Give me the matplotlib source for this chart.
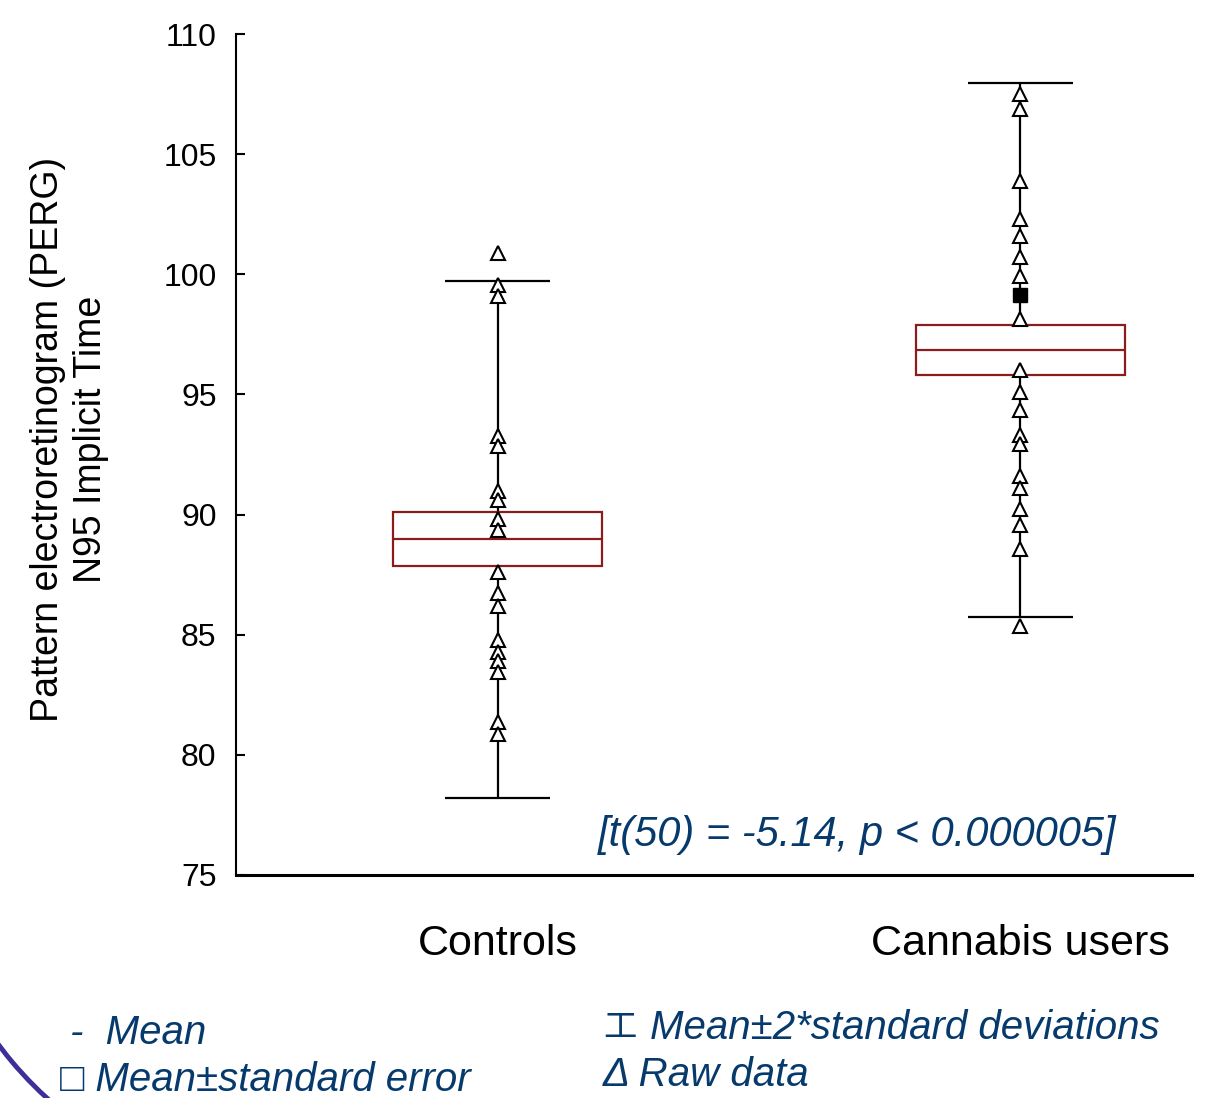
import matplotlib
matplotlib.use("Agg")
import matplotlib.pyplot as plt
from matplotlib.patches import Rectangle, Arc

# Data ###############################################################
groups = ["Controls", "Cannabis users"]
means = [88.97, 96.85]
sem = [1.12, 1.06]          # box = mean +/- standard error
two_sd = [10.77, 11.11]     # whiskers = mean +/- 2*SD

controls_raw = [100.9, 99.55, 99.1, 93.25, 92.85, 91.0, 90.6, 89.8, 89.35,
                87.6, 86.75, 86.2, 84.8, 84.3, 83.9, 83.45, 81.35, 80.85]
cannabis_raw = [107.5, 106.9, 103.9, 102.3, 101.6, 100.7, 99.95, 98.15,
                96.0, 95.1, 94.35, 93.3, 92.95, 91.6, 91.1, 90.25, 89.55,
                88.55, 85.35]
cannabis_filled = [99.15]

y_ticks = [75, 80, 85, 90, 95, 100, 105, 110]
stat_text = "[t(50) = -5.14, p < 0.000005]"

# Styles ###############################################################
box_col = "#8c1c1c"
navy = "#073a6c"
plt.rcParams["font.family"] = ["Liberation Sans", "DejaVu Sans"]

fig = plt.figure(figsize=(12.06, 10.98), dpi=100)
ax = fig.add_axes([0.1957, 0.2031, 0.7927, 0.7659])

box_half = 0.2
cap_half = 0.1
raw = [controls_raw, cannabis_raw]

for i in range(len(groups)):
    m, s, d = means[i], sem[i], two_sd[i]
    # whiskers (outside the box)
    ax.vlines(i, m + s, m + d, color="black", lw=1.6, zorder=2)
    ax.vlines(i, m - d, m - s, color="black", lw=1.6, zorder=2)
    ax.hlines([m + d, m - d], i - cap_half, i + cap_half, color="black", lw=1.6, zorder=2)
    # mean +/- SE box and mean line
    ax.add_patch(Rectangle((i - box_half, m - s), 2 * box_half, 2 * s,
                           fill=False, edgecolor=box_col, lw=1.6, zorder=3))
    ax.hlines(m, i - box_half, i + box_half, color=box_col, lw=1.6, zorder=3)
    # raw data
    ax.plot([i] * len(raw[i]), raw[i], linestyle="none", marker="^", ms=10,
            mfc="white", mec="black", mew=1.5, zorder=4)

ax.plot([1] * len(cannabis_filled), cannabis_filled, linestyle="none", marker="s",
        ms=10, mfc="black", mec="black", zorder=5)

ax.set_xlim(-0.5, 1.328)
ax.set_ylim(75, 110)
ax.set_yticks(y_ticks)
ax.set_xticks(range(len(groups)))
ax.set_xticklabels(groups, fontsize=31)
ax.tick_params(axis="x", length=0, pad=35)
ax.tick_params(axis="y", direction="in", length=6.5, width=1.5, labelsize=23, pad=14)
for side in ["top", "right"]:
    ax.spines[side].set_visible(False)
ax.spines["left"].set_linewidth(1.5)
ax.spines["bottom"].set_linewidth(2.2)

# axis label, stats and legend text
fig.text(0.058, 0.60, "Pattern electroretinogram (PERG)\nN95 Implicit Time",
         rotation=90, ha="center", va="center", multialignment="center",
         fontsize=27, linespacing=1.25)
fig.text(0.711, 0.2395, stat_text, ha="center", va="center", fontsize=30,
         style="italic", color=navy)

fig.text(0.058, 0.0592, "-  Mean", ha="left", va="center", fontsize=29,
         style="italic", color=navy)
fig.text(0.050, 0.0164, "□ Mean±standard error", ha="left", va="center", fontsize=29,
         style="italic", color=navy, family=["Liberation Sans", "DejaVu Sans"])
fig.text(0.5, 0.0638, "工", ha="left", va="center", fontsize=24, color=navy,
         family=["Noto Sans CJK SC", "DejaVu Sans"])
fig.text(0.539, 0.0638, "Mean±2*standard deviations", ha="left", va="center",
         fontsize=29, style="italic", color=navy)
fig.text(0.5, 0.021, "Δ Raw data", ha="left", va="center", fontsize=29,
         style="italic", color=navy)

# decorative arc at the lower left corner
fig.add_artist(Arc((3.0, 2.78), 7.52, 7.52, theta1=200, theta2=240,
                   transform=fig.dpi_scale_trans, color="#3c2f9a", lw=3.5))

fig.savefig("out.png", dpi=100)
